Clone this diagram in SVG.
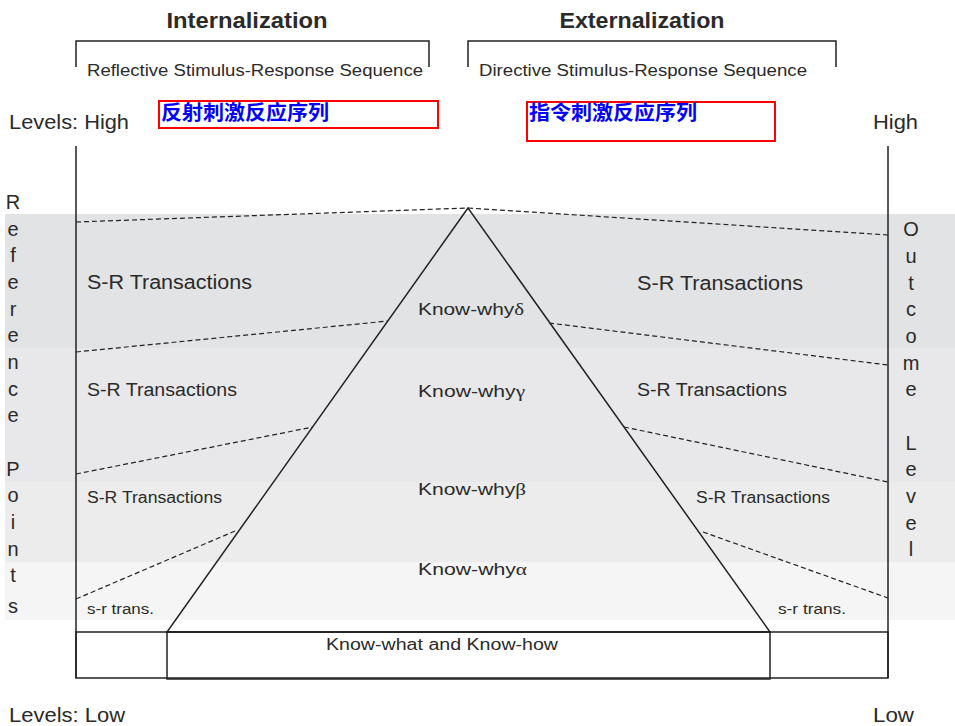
<svg xmlns="http://www.w3.org/2000/svg" width="955" height="726" viewBox="0 0 955 726">
<style>
text{font-family:"Liberation Sans",Arial,sans-serif;fill:#2a2a2a}
.t{font-weight:bold;font-size:22px;text-anchor:middle}
.sub{font-size:16px}
.lvl{font-size:21px}
.v{font-size:20px;text-anchor:middle}
.cn{font-family:"Liberation Sans","Noto Sans CJK SC",sans-serif;font-size:20px;font-weight:bold;fill:#0000ff}
.kw{font-size:17px}
.g{font-family:"Liberation Serif",serif}
.solid{fill:none;stroke:#222;stroke-width:1.5}
.dash{fill:none;stroke:#222;stroke-width:1.2;stroke-dasharray:5 3}
.red{fill:none;stroke:#ff0000;stroke-width:2}
</style>
<rect width="955" height="726" fill="#fff"/>
<g id="bands">
<rect x="5" y="214" width="950" height="134" fill="#e2e3e5"/>
<rect x="5" y="348" width="950" height="134" fill="#e8e8ea"/>
<rect x="5" y="482" width="950" height="80" fill="#ececec"/>
<rect x="5" y="562" width="950" height="58" fill="#f5f5f5"/>
</g>
<g id="headers">
<text class="t" x="247" y="28" textLength="161" lengthAdjust="spacingAndGlyphs">Internalization</text>
<text class="t" x="642" y="28" textLength="165" lengthAdjust="spacingAndGlyphs">Externalization</text>
<path class="solid" d="M76,67 V41 H429 V67"/>
<path class="solid" d="M468,67 V41 H836 V67"/>
<text class="sub" x="87" y="76" textLength="336" lengthAdjust="spacingAndGlyphs">Reflective Stimulus-Response Sequence</text>
<text class="sub" x="479" y="76" textLength="328" lengthAdjust="spacingAndGlyphs">Directive Stimulus-Response Sequence</text>
</g>
<g id="cn-left">
<rect class="red" x="159" y="101" width="279" height="27"/>
<text class="cn" x="161" y="120" textLength="168" lengthAdjust="spacingAndGlyphs">反射刺激反应序列</text>
</g>
<g id="cn-right">
<rect class="red" x="527" y="102" width="248" height="39"/>
<text class="cn" x="529" y="120" textLength="168" lengthAdjust="spacingAndGlyphs">指令刺激反应序列</text>
</g>
<g id="levels">
<text class="lvl" x="9" y="129" textLength="120" lengthAdjust="spacingAndGlyphs">Levels: High</text>
<text class="lvl" x="873" y="129" textLength="45" lengthAdjust="spacingAndGlyphs">High</text>
<text class="lvl" x="9" y="722" textLength="116" lengthAdjust="spacingAndGlyphs">Levels: Low</text>
<text class="lvl" x="873" y="722" textLength="41" lengthAdjust="spacingAndGlyphs">Low</text>
</g>
<g id="axes">
<line class="solid" x1="76" y1="146" x2="76" y2="678"/>
<line class="solid" x1="888" y1="146" x2="888" y2="678"/>
</g>
<g id="reference-points">
<text class="v" x="13" y="209">R</text>
<text class="v" x="13" y="236">e</text>
<text class="v" x="13" y="262">f</text>
<text class="v" x="13" y="289">e</text>
<text class="v" x="13" y="316">r</text>
<text class="v" x="13" y="342">e</text>
<text class="v" x="13" y="369">n</text>
<text class="v" x="13" y="396">c</text>
<text class="v" x="13" y="422">e</text>
<text class="v" x="13" y="476">P</text>
<text class="v" x="13" y="502">o</text>
<text class="v" x="13" y="529">i</text>
<text class="v" x="13" y="556">n</text>
<text class="v" x="13" y="582">t</text>
<text class="v" x="13" y="613">s</text>
</g>
<g id="outcome-level">
<text class="v" x="911" y="236">O</text>
<text class="v" x="911" y="263">u</text>
<text class="v" x="911" y="290">t</text>
<text class="v" x="911" y="316">c</text>
<text class="v" x="911" y="343">o</text>
<text class="v" x="911" y="370">m</text>
<text class="v" x="911" y="396">e</text>
<text class="v" x="911" y="450">L</text>
<text class="v" x="911" y="476">e</text>
<text class="v" x="911" y="503">v</text>
<text class="v" x="911" y="530">e</text>
<text class="v" x="911" y="556">l</text>
</g>
<g id="transactions">
<text x="87" y="289" font-size="20" textLength="165" lengthAdjust="spacingAndGlyphs">S-R Transactions</text>
<text x="637" y="290" font-size="20" textLength="166" lengthAdjust="spacingAndGlyphs">S-R Transactions</text>
<text x="87" y="396" font-size="18" textLength="150" lengthAdjust="spacingAndGlyphs">S-R Transactions</text>
<text x="637" y="396" font-size="18" textLength="150" lengthAdjust="spacingAndGlyphs">S-R Transactions</text>
<text x="87" y="503" font-size="16" textLength="135" lengthAdjust="spacingAndGlyphs">S-R Transactions</text>
<text x="696" y="503" font-size="16" textLength="134" lengthAdjust="spacingAndGlyphs">S-R Transactions</text>
<text x="87" y="614" font-size="14" textLength="67" lengthAdjust="spacingAndGlyphs">s-r trans.</text>
<text x="778" y="614" font-size="14" textLength="68" lengthAdjust="spacingAndGlyphs">s-r trans.</text>
</g>
<g id="base">
<rect class="solid" x="76" y="632" width="812" height="46"/>
<rect class="solid" x="167" y="632" width="603" height="47" fill="#fff"/>
<text x="326" y="650" font-size="16" textLength="232" lengthAdjust="spacingAndGlyphs">Know-what and Know-how</text>
</g>
<g id="connectors">
<line class="dash" x1="76" y1="222" x2="468" y2="208"/>
<line class="dash" x1="76" y1="352" x2="388" y2="321"/>
<line class="dash" x1="76" y1="474" x2="313" y2="427"/>
<line class="dash" x1="76" y1="599" x2="235" y2="531"/>
<line class="dash" x1="468" y1="208" x2="888" y2="235"/>
<line class="dash" x1="549" y1="323" x2="888" y2="365"/>
<line class="dash" x1="624" y1="427" x2="888" y2="482"/>
<line class="dash" x1="703" y1="532" x2="888" y2="598"/>
</g>
<g id="pyramid">
<path class="solid" d="M468,208 L167,632 L770,632 Z" fill="#fff"/>
<text class="kw" x="418" y="315" textLength="106" lengthAdjust="spacingAndGlyphs">Know-why<tspan class="g">δ</tspan></text>
<text class="kw" x="418" y="397" textLength="107" lengthAdjust="spacingAndGlyphs">Know-why<tspan class="g">γ</tspan></text>
<text class="kw" x="418" y="495" textLength="108" lengthAdjust="spacingAndGlyphs">Know-why<tspan class="g">β</tspan></text>
<text class="kw" x="418" y="575" textLength="109" lengthAdjust="spacingAndGlyphs">Know-why<tspan class="g">α</tspan></text>
</g>
</svg>
